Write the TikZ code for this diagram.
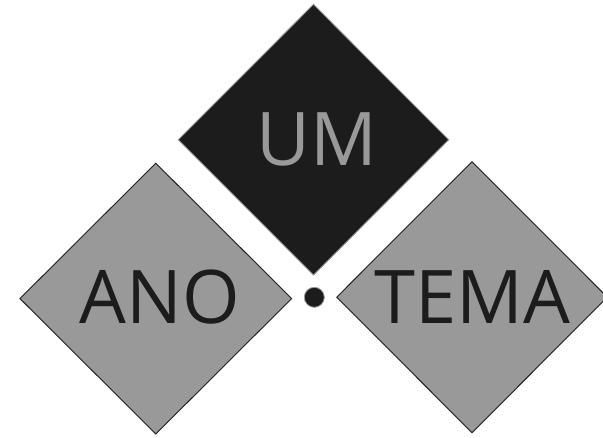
\documentclass[tikz,border=0pt]{standalone}
\usepackage{fontspec}
\setmainfont{Open Sans}
\usetikzlibrary{shapes.geometric}
\definecolor{ink}{HTML}{1C1C1C}
\definecolor{mid}{HTML}{999999}
\tikzset{
  dia/.style={diamond, shape aspect=1, inner sep=0pt, outer sep=0pt, line width=0.9pt},
  darkdia/.style={dia, fill=ink, draw=mid},
  greydia/.style={dia, fill=mid, draw=ink},
  word/.style={inner sep=0pt, font=\fontsize{74}{80}\selectfont},
  dot/.style={circle, inner sep=0pt, minimum size=20pt, fill=ink, draw=mid, line width=0.8pt}
}
\begin{document}
\begin{tikzpicture}[x=1pt, y=-1pt]
\useasboundingbox (0,0) rectangle (603,438);
\clip (0,0) rectangle (603,438);
\node[darkdia, minimum width=270.4pt, minimum height=270.7pt] (um) at (313.5,139.7) {};
\node[greydia, minimum width=271.7pt, minimum height=270.7pt] (ano) at (155.8,298.6) {};
\node[greydia, minimum width=270.6pt, minimum height=271pt] (tema) at (472,297.2) {};
\node[dot] (pt) at (314.3,297.3) {};
\node[word, text=mid] (umt) at (316.8,139.5) {UM};
\node[word, text=ink] (anot) at (160,297.5) {ANO};
\node[word, text=ink] (temat) at (472.5,296.5) {TEMA};
\end{tikzpicture}
\end{document}
